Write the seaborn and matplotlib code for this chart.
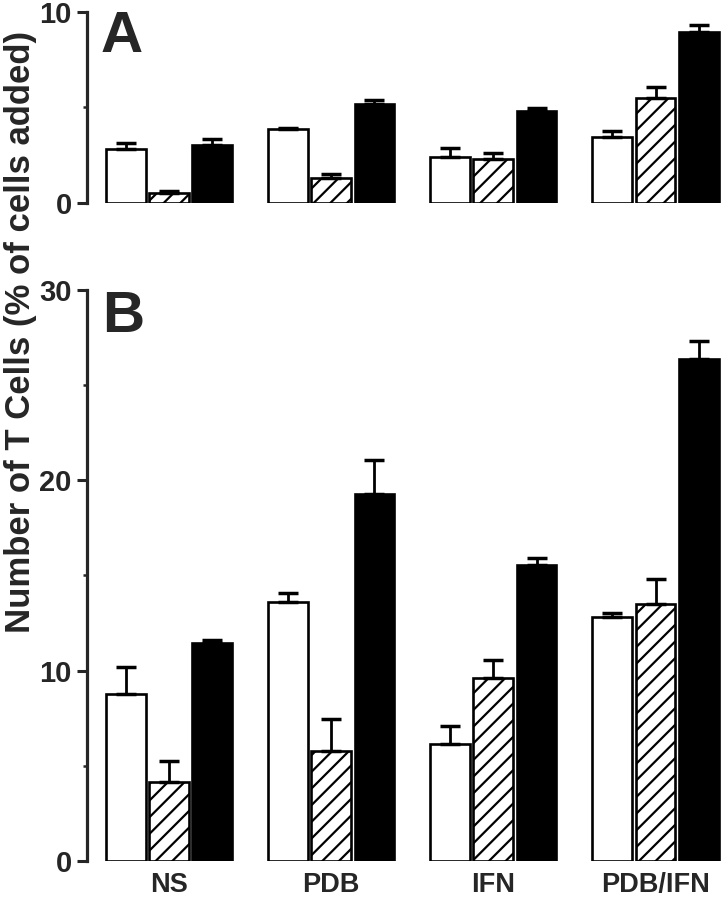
import numpy as np
import pandas as pd
import seaborn as sns
import matplotlib.pyplot as plt
from matplotlib.ticker import MultipleLocator

sns.set_style("ticks")
plt.rcParams['font.family'] = ['Liberation Sans', 'DejaVu Sans']
plt.rcParams['font.weight'] = 'bold'
plt.rcParams['hatch.linewidth'] = 1.6

# categories / series
groups = ["NS", "PDB", "IFN", "PDB/IFN"]
series = ["open", "hatched", "filled"]

# panel A values (mean, upper error)
a_open = [2.83, 3.86, 2.43, 3.44]
a_open_err = [0.30, 0.06, 0.47, 0.35]
a_hatch = [0.54, 1.33, 2.29, 5.47]
a_hatch_err = [0.11, 0.19, 0.35, 0.58]
a_fill = [3.04, 5.19, 4.79, 8.95]
a_fill_err = [0.30, 0.18, 0.19, 0.39]

# panel B values
b_open = [8.75, 13.6, 6.14, 12.8]
b_open_err = [1.44, 0.47, 0.96, 0.24]
b_hatch = [4.14, 5.79, 9.61, 13.5]
b_hatch_err = [1.09, 1.68, 0.97, 1.30]
b_fill = [11.44, 19.3, 15.54, 26.35]
b_fill_err = [0.16, 1.75, 0.40, 0.95]


def make_df(vals, errs):
    rows = []
    for s, v, e in zip(series, vals, errs):
        for g, vv, ee in zip(groups, v, e):
            rows.append({"group": g, "series": s, "value": vv, "err": ee})
    return pd.DataFrame(rows)


def draw_panel(ax, df, ymax, major, minor):
    sns.barplot(data=df, x="group", y="value", hue="series", order=groups,
                hue_order=series, palette=["white", "white", "black"],
                edgecolor="black", linewidth=1.9, gap=0.08, errorbar=None,
                legend=False, ax=ax)
    bar_conts = list(ax.containers)
    for i, cont in enumerate(bar_conts):
        sub = df[df["series"] == series[i]].set_index("group").loc[groups]
        xs = [p.get_x() + p.get_width() / 2 for p in cont.patches]
        if i == 1:
            for p in cont.patches:
                p.set_hatch("//")
        ax.errorbar(xs, sub["value"].values,
                    yerr=[np.zeros(len(xs)), sub["err"].values],
                    fmt="none", ecolor="black", elinewidth=2.0,
                    capsize=7, capthick=2.5, zorder=1)
    ax.set_xlim(-0.506, 3.41)
    ax.set_ylim(0, ymax)
    ax.yaxis.set_major_locator(MultipleLocator(major))
    ax.yaxis.set_minor_locator(MultipleLocator(minor))
    for s in ["top", "right", "bottom"]:
        ax.spines[s].set_visible(False)
    ax.spines["left"].set_linewidth(2.3)
    ax.tick_params(axis="y", which="major", length=7.5, width=2.2, pad=3.5,
                   labelsize=21)
    ax.tick_params(axis="y", which="minor", length=3, width=1.8)
    ax.tick_params(axis="x", length=0, pad=8, labelsize=19.5)
    ax.set_xlabel("")
    ax.set_ylabel("")
    for lab in ax.get_yticklabels() + ax.get_xticklabels():
        lab.set_fontweight("bold")


fig = plt.figure(figsize=(7.22, 8.99), dpi=100)
axA = fig.add_axes([0.1205, 0.7742, 0.8795, 0.2125])
axB = fig.add_axes([0.1205, 0.0423, 0.8795, 0.6351])

dfA = make_df([a_open, a_hatch, a_fill], [a_open_err, a_hatch_err, a_fill_err])
dfB = make_df([b_open, b_hatch, b_fill], [b_open_err, b_hatch_err, b_fill_err])

draw_panel(axA, dfA, 10, 10, 5)
draw_panel(axB, dfB, 30, 10, 5)
axA.set_xticklabels([])

fig.text(0.139, 0.9422, "A", fontsize=42, fontweight="bold", va="baseline")
fig.text(0.141, 0.6307, "B", fontsize=42, fontweight="bold", va="baseline")
fig.text(0.029, 0.631, "Number of T Cells (% of cells added)", rotation=90,
         fontsize=25, fontweight="bold", ha="center", va="center")

fig.savefig("out.png", dpi=100)
